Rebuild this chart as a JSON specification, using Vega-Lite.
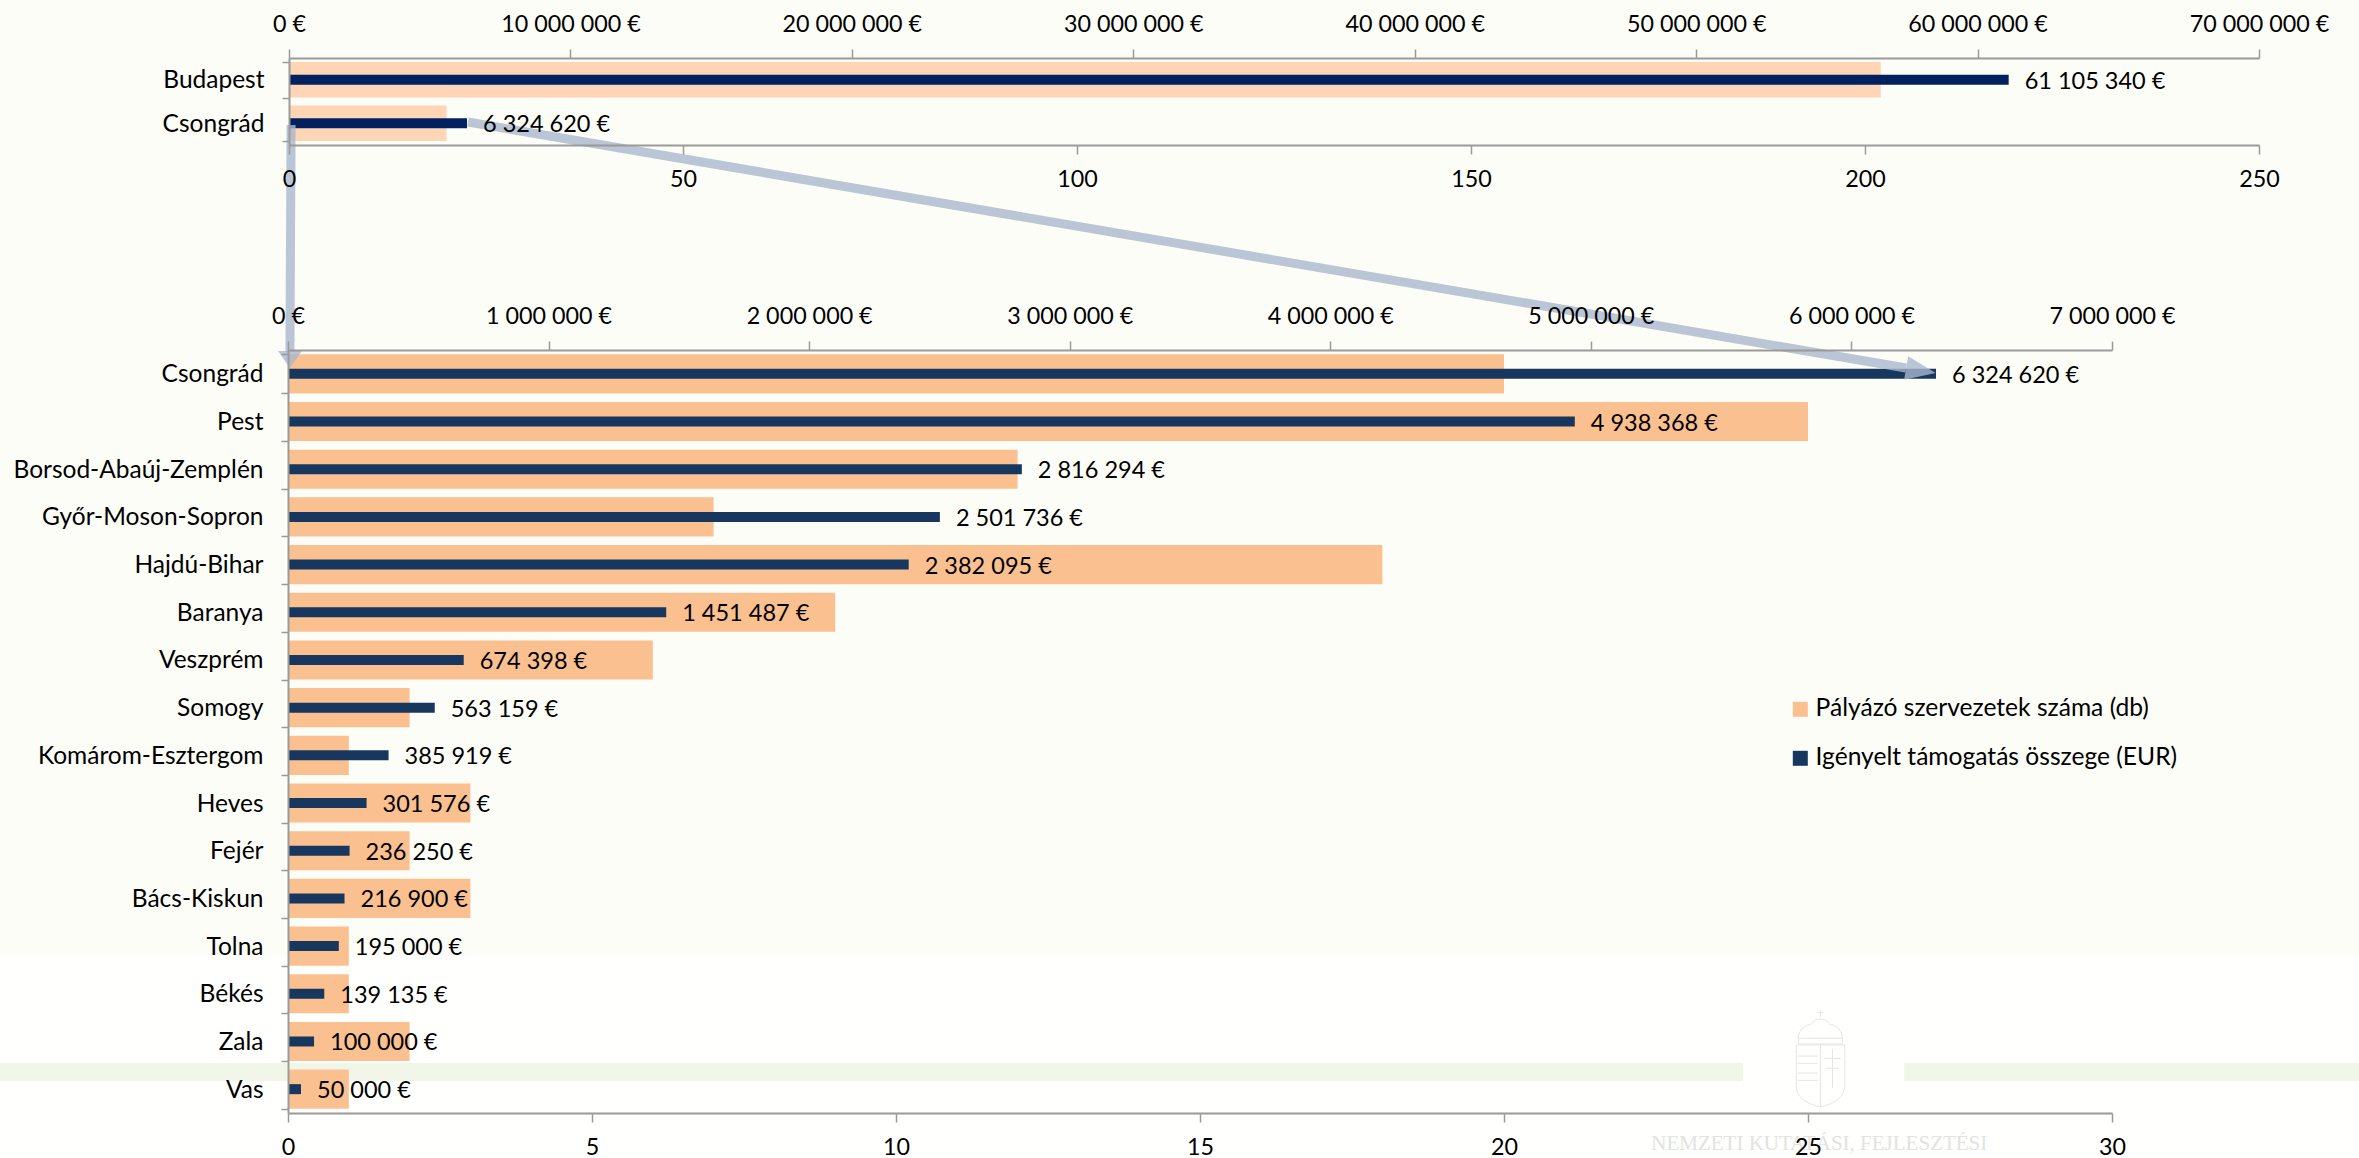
{
"$schema":"https://vega.github.io/schema/vega-lite/v6.json",
"width":2359,"height":1158,"padding":0,"autosize":{"type":"none"},
"background":"#FCFDF7",
"config":{"view":{"stroke":null},"font":"Lato","axis":{"grid":false,"title":null,"labelFont":"Lato","labelFontSize":23.3,"labelColor":"#000000","domainColor":"#9A9A9A","tickColor":"#9A9A9A","domainWidth":2,"tickWidth":1.5,"labelOverlap":false,"labelBound":false,"labelFlush":false}},
"datasets":{
"top":[
{"county":"Budapest","count":202,"amount":61105340,"label":"61 105 340 €"},
{"county":"Csongrád","count":20,"amount":6324620,"label":"6 324 620 €"}],
"low":[
{"county":"Csongrád","count":20,"amount":6324620,"label":"6 324 620 €"},
{"county":"Pest","count":25,"amount":4938368,"label":"4 938 368 €"},
{"county":"Borsod-Abaúj-Zemplén","count":12,"amount":2816294,"label":"2 816 294 €"},
{"county":"Győr-Moson-Sopron","count":7,"amount":2501736,"label":"2 501 736 €"},
{"county":"Hajdú-Bihar","count":18,"amount":2382095,"label":"2 382 095 €"},
{"county":"Baranya","count":9,"amount":1451487,"label":"1 451 487 €"},
{"county":"Veszprém","count":6,"amount":674398,"label":"674 398 €"},
{"county":"Somogy","count":2,"amount":563159,"label":"563 159 €"},
{"county":"Komárom-Esztergom","count":1,"amount":385919,"label":"385 919 €"},
{"county":"Heves","count":3,"amount":301576,"label":"301 576 €"},
{"county":"Fejér","count":2,"amount":236250,"label":"236 250 €"},
{"county":"Bács-Kiskun","count":3,"amount":216900,"label":"216 900 €"},
{"county":"Tolna","count":1,"amount":195000,"label":"195 000 €"},
{"county":"Békés","count":1,"amount":139135,"label":"139 135 €"},
{"county":"Zala","count":2,"amount":100000,"label":"100 000 €"},
{"county":"Vas","count":1,"amount":50000,"label":"50 000 €"}],
"regions":[
{"r":"page","x0":0,"x1":1,"y0":0.8256,"y1":1,"c":"#FFFFFD"},
{"r":"bandL","x0":0,"x1":0.7389,"y0":0.918,"y1":0.9335,"c":"#F2F6E8"},
{"r":"bandR","x0":0.8072,"x1":1,"y0":0.918,"y1":0.9335,"c":"#F2F6E8"}],
"arrows":[
{"arrow":"a","fx":0.1984,"fy":0.1054},{"arrow":"a","fx":0.808,"fy":0.3178},
{"arrow":"b","fx":0.1234,"fy":0.1079},{"arrow":"b","fx":0.1229,"fy":0.304}],
"heads":[{"arrow":"a","fx":0.8143,"fy":0.32,"rot":99.7}],
"headsB":[{"arrow":"b","fx":0.1229,"fy":0.3104,"rot":180}],
"mark":[{"name":"crest","fx":0.7717,"fy":0.9141}],
"mtext":[{"t":"NEMZETI KUTATÁSI, FEJLESZTÉSI","fx":0.7712,"fy":0.9931}]
},
"layer":[
{"data":{"name":"regions"},"mark":{"type":"rect"},
"encoding":{
"x":{"field":"x0","type":"quantitative","axis":null,"scale":{"domain":[0,1],"range":[0,2359],"nice":false}},
"x2":{"field":"x1"},
"y":{"field":"y0","type":"quantitative","axis":null,"scale":{"domain":[0,1],"range":[0,1158],"nice":false}},
"y2":{"field":"y1"},
"fill":{"field":"c","type":"nominal","scale":null}}},
{"data":{"name":"mark"},"mark":{"type":"point","filled":false,"stroke":"#E4E5E4","strokeWidth":1,"size":9409,"opacity":1,"shape":"M-.5 -.28L.5 -.28L.5 .55C.5 .85 .2 .95 0 1C-.2 .95 -.5 .85 -.5 .55ZM0 -.28V1M-.47 -.05H-.05M-.47 .1H-.05M-.47 .3H-.05M-.47 .45H-.05M.25 -.2V.6M.08 0H.42M.12 .2H.38M-.45 -.3C-.5 -.6 -.3 -.7 -.2 -.7C-.1 -.85 .1 -.85 .2 -.7C.3 -.7 .5 -.6 .45 -.3ZM-.45 -.42H.45M0 -.85V-1M-.07 -.95H.07"},
"encoding":{
"x":{"field":"fx","type":"quantitative","axis":null,"scale":{"domain":[0,1],"range":[0,2359],"nice":false}},
"y":{"field":"fy","type":"quantitative","axis":null,"scale":{"domain":[0,1],"range":[0,1158],"nice":false}}}},
{"data":{"name":"mtext"},"mark":{"type":"text","font":"Liberation Serif","fontSize":21,"fill":"#E2E3E2","baseline":"alphabetic"},
"encoding":{
"x":{"field":"fx","type":"quantitative","axis":null,"scale":{"domain":[0,1],"range":[0,2359],"nice":false}},
"y":{"field":"fy","type":"quantitative","axis":null,"scale":{"domain":[0,1],"range":[0,1158],"nice":false}},
"text":{"field":"t"}}},

{"data":{"name":"top"},"mark":{"type":"bar","fill":"#FFD5B5"},
"encoding":{
"x":{"field":"count","type":"quantitative","scale":{"domain":[0,250],"range":[289,2259],"nice":false},
"axis":{"orient":"bottom","offset":-1013,"zindex":1,"values":[0,50,100,150,200,250],"tickSize":9,"labelPadding":14}},
"y":{"field":"county","type":"nominal","sort":null,"scale":{"domain":["Budapest","Csongrád"],"range":[58,145],"paddingInner":0.18,"paddingOuter":0.09},
"axis":{"orient":"left","offset":-289,"zindex":1,"tickBand":"extent","ticks":true,"tickSize":7,"labelPadding":18,"labelLimit":400,"labelFontSize":24.5,"labelOffset":1}}}},
{"data":{"name":"top"},"mark":{"type":"bar","fill":"#002060","height":10},
"encoding":{
"x":{"field":"amount","type":"quantitative","scale":{"domain":[0,70000000],"range":[289,2259],"nice":false},
"axis":{"orient":"top","offset":-58,"values":[0,10000000,20000000,30000000,40000000,50000000,60000000,70000000],"tickSize":9,"labelPadding":13,"labelExpr":"replace(format(datum.value,','),/,/g,' ')+' €'"}},
"y":{"field":"county","type":"nominal","sort":null,"axis":null,"scale":{"domain":["Budapest","Csongrád"],"range":[58,145],"paddingInner":0.18,"paddingOuter":0.09}}}},

{"data":{"name":"low"},"mark":{"type":"bar"},
"encoding":{
"x":{"field":"count","type":"quantitative","scale":{"domain":[0,30],"range":[288,2112],"nice":false},
"axis":{"orient":"bottom","offset":-45,"zindex":1,"values":[0,5,10,15,20,25,30],"tickSize":9,"labelPadding":14}},
"y":{"field":"county","type":"nominal","sort":null,"scale":{"domain":["Csongrád","Pest","Borsod-Abaúj-Zemplén","Győr-Moson-Sopron","Hajdú-Bihar","Baranya","Veszprém","Somogy","Komárom-Esztergom","Heves","Fejér","Bács-Kiskun","Tolna","Békés","Zala","Vas"],"range":[350,1113],"paddingInner":0.18,"paddingOuter":0.09},
"axis":{"orient":"left","offset":-288,"zindex":1,"tickBand":"extent","tickSize":7,"labelPadding":18,"labelLimit":400,"labelFontSize":24.5,"labelOffset":1}},
"color":{"datum":"Pályázó szervezetek száma (db)","type":"nominal","scale":{"domain":["Pályázó szervezetek száma (db)","Igényelt támogatás összege (EUR)"],"range":["#FBC08F","#17375E"]},
"legend":{"orient":"none","legendX":1788,"legendY":697,"title":null,"symbolType":"square","symbolSize":225,"symbolStrokeWidth":0,"labelFont":"Lato","labelFontSize":24.6,"labelColor":"#000000","labelOffset":3,"rowPadding":24,"labelLimit":500}}}},
{"data":{"name":"low"},"mark":{"type":"bar","height":10},
"encoding":{
"x":{"field":"amount","type":"quantitative","scale":{"domain":[0,7000000],"range":[288,2112],"nice":false},
"axis":{"orient":"top","offset":-350,"zindex":1,"values":[0,1000000,2000000,3000000,4000000,5000000,6000000,7000000],"tickSize":9,"labelPadding":13,"labelExpr":"replace(format(datum.value,','),/,/g,' ')+' €'"}},
"y":{"field":"county","type":"nominal","sort":null,"axis":null,"scale":{"domain":["Csongrád","Pest","Borsod-Abaúj-Zemplén","Győr-Moson-Sopron","Hajdú-Bihar","Baranya","Veszprém","Somogy","Komárom-Esztergom","Heves","Fejér","Bács-Kiskun","Tolna","Békés","Zala","Vas"],"range":[350,1113],"paddingInner":0.18,"paddingOuter":0.09}},
"color":{"datum":"Igényelt támogatás összege (EUR)","type":"nominal"}}},

{"data":{"name":"arrows"},"mark":{"type":"line","stroke":"#A9B6CC","strokeWidth":9,"opacity":0.8},
"encoding":{
"x":{"field":"fx","type":"quantitative","axis":null,"scale":{"domain":[0,1],"range":[0,2359],"nice":false}},
"y":{"field":"fy","type":"quantitative","axis":null,"sort":null,"scale":{"domain":[0,1],"range":[0,1158],"nice":false}},
"detail":{"field":"arrow"}}},
{"data":{"name":"heads"},"mark":{"type":"point","filled":true,"fill":"#A9B6CC","opacity":0.8,"strokeWidth":0,"size":900,"shape":"M0 -1L.8 1L-.8 1Z"},
"encoding":{
"x":{"field":"fx","type":"quantitative","axis":null,"scale":{"domain":[0,1],"range":[0,2359],"nice":false}},
"y":{"field":"fy","type":"quantitative","axis":null,"scale":{"domain":[0,1],"range":[0,1158],"nice":false}},
"angle":{"field":"rot","type":"quantitative","scale":null}}},
{"data":{"name":"headsB"},"mark":{"type":"point","filled":true,"fill":"#A9B6CC","opacity":0.8,"strokeWidth":0,"size":289,"shape":"M0 -1L1.4 1L-1.4 1Z"},
"encoding":{
"x":{"field":"fx","type":"quantitative","axis":null,"scale":{"domain":[0,1],"range":[0,2359],"nice":false}},
"y":{"field":"fy","type":"quantitative","axis":null,"scale":{"domain":[0,1],"range":[0,1158],"nice":false}},
"angle":{"field":"rot","type":"quantitative","scale":null}}},

{"data":{"name":"top"},"mark":{"type":"text","align":"left","baseline":"middle","dx":16,"dy":2,"font":"Lato","fontSize":23.5,"fill":"#000000"},
"encoding":{
"x":{"field":"amount","type":"quantitative","axis":null,"scale":{"domain":[0,70000000],"range":[289,2259],"nice":false}},
"y":{"field":"county","type":"nominal","sort":null,"axis":null,"scale":{"domain":["Budapest","Csongrád"],"range":[58,145],"paddingInner":0.18,"paddingOuter":0.09}},
"text":{"field":"label"}}},
{"data":{"name":"low"},"mark":{"type":"text","align":"left","baseline":"middle","dx":16,"dy":2,"font":"Lato","fontSize":23.5,"fill":"#000000"},
"encoding":{
"x":{"field":"amount","type":"quantitative","axis":null,"scale":{"domain":[0,7000000],"range":[288,2112],"nice":false}},
"y":{"field":"county","type":"nominal","sort":null,"axis":null,"scale":{"domain":["Csongrád","Pest","Borsod-Abaúj-Zemplén","Győr-Moson-Sopron","Hajdú-Bihar","Baranya","Veszprém","Somogy","Komárom-Esztergom","Heves","Fejér","Bács-Kiskun","Tolna","Békés","Zala","Vas"],"range":[350,1113],"paddingInner":0.18,"paddingOuter":0.09}},
"text":{"field":"label"}}}
],
"resolve":{"scale":{"x":"independent","y":"independent","color":"shared"},"axis":{"x":"independent","y":"independent"}}
}
